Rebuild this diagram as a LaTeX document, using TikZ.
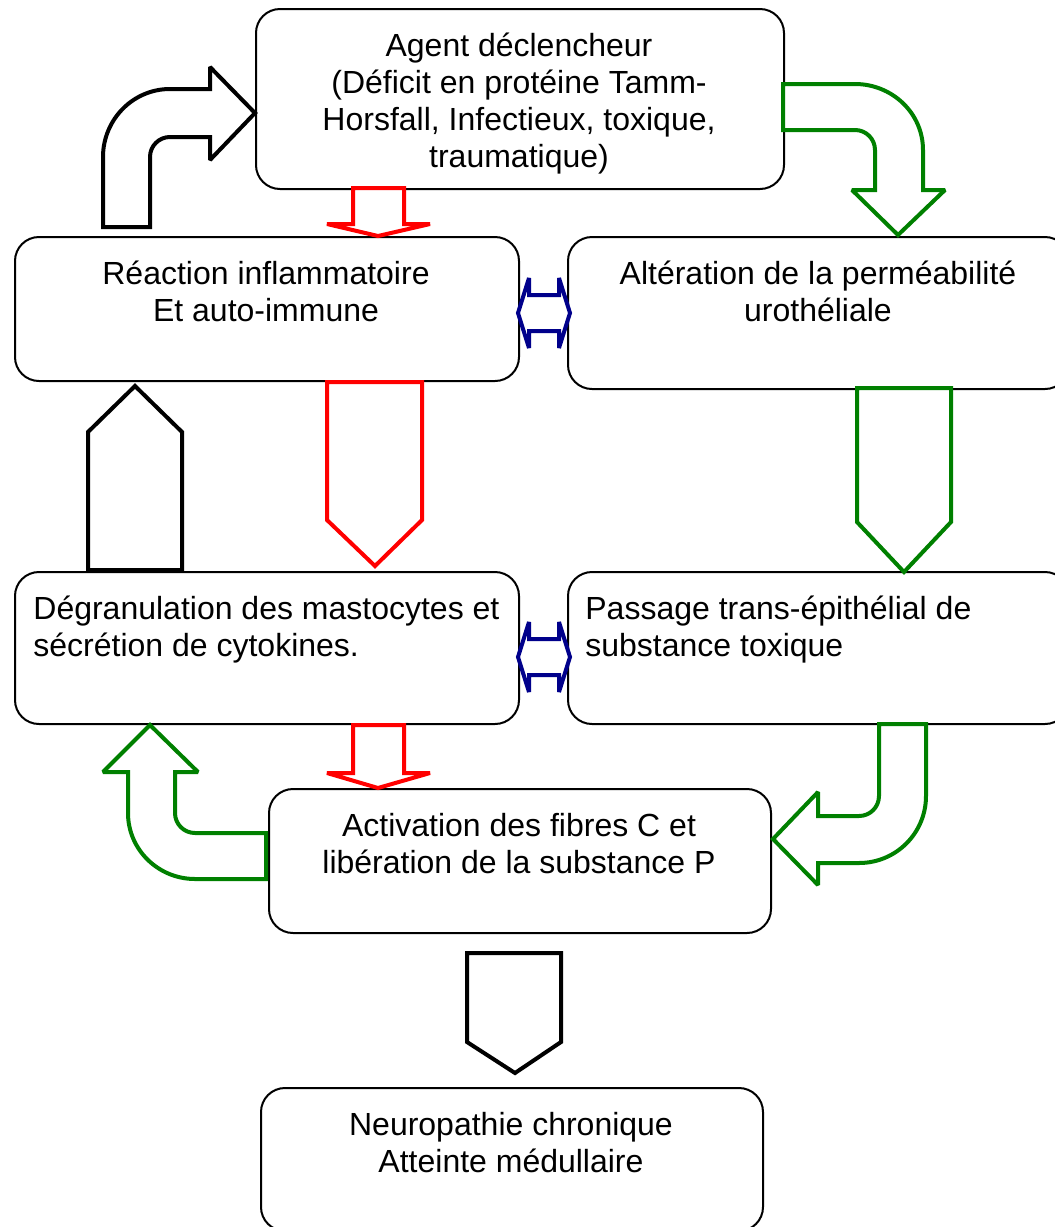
\documentclass[tikz,border=0pt]{standalone}
\usepackage{fontspec}
\setmainfont{Liberation Sans}

\definecolor{arrgreen}{RGB}{0,128,0}
\definecolor{arrblue}{RGB}{0,0,139}

\tikzset{
  box/.style={draw, line width=1pt, rounded corners=12pt, anchor=north west, inner sep=0pt},
  txt/.style={font=\fontsize{16}{18.5}\selectfont, inner sep=0pt, anchor=north, align=center},
  blockarr/.style={draw=#1, line width=2pt, fill=white, line join=miter, miter limit=2},
  blockarr/.default=black
}

\begin{document}
\begin{tikzpicture}[x=0.5pt,y=0.5pt]
  \useasboundingbox (0,0) rectangle (1055,-1227);

  % boxes
  \node[box, minimum width=264pt, minimum height=90pt] (agent) at (255,-8) {};
  \node[box, minimum width=252pt, minimum height=72pt] (reac) at (14,-236) {};
  \node[box, minimum width=250.5pt, minimum height=76pt] (alter) at (567,-236) {};
  \node[box, minimum width=252pt, minimum height=76pt] (degr) at (14,-571) {};
  \node[box, minimum width=250.5pt, minimum height=76pt] (pass) at (567,-571) {};
  \node[box, minimum width=251pt, minimum height=72pt] (activ) at (268,-788) {};
  \node[box, minimum width=251pt, minimum height=71.5pt] (neuro) at (260,-1087) {};

  % texts
  \node[txt] (agent-t) at (519,-30) {\strut Agent déclencheur\\(Déficit en protéine Tamm-\\Horsfall, Infectieux, toxique,\\traumatique)};
  \node[txt] (reac-t) at (266,-258) {\strut Réaction inflammatoire\\Et auto-immune};
  \node[txt] (alter-t) at (818,-258) {\strut Altération de la perméabilité\\urothéliale};
  \node[txt, anchor=north west, align=left] (degr-t) at (33,-593) {\strut Dégranulation des mastocytes et\\sécrétion de cytokines.};
  \node[txt, anchor=north west, align=left] (pass-t) at (585,-593) {\strut Passage trans-épithélial de\\substance toxique};
  \node[txt] (activ-t) at (519,-810) {\strut Activation des fibres C et\\libération de la substance P};
  \node[txt] (neuro-t) at (511,-1109) {\strut Neuropathie chronique\\Atteinte médullaire};

  % curved block arrows
  \draw[blockarr] (103,-227) -- (103,-157) to[out=90,in=180] (170,-89) -- (210,-89) -- (210,-67)
    -- (255,-113) -- (210,-160) -- (210,-137) -- (170,-137) to[out=180,in=90] (150,-157) -- (150,-227) -- cycle;
  \draw[blockarr=arrgreen] (783,-84) -- (855,-84) to[out=0,in=90] (923,-150) -- (923,-190) -- (945,-190)
    -- (898,-235) -- (852,-190) -- (875,-190) -- (875,-150) to[out=90,in=0] (855,-130) -- (783,-130) -- cycle;
  \draw[blockarr=arrgreen] (266,-833) -- (195,-833) to[out=180,in=-90] (175,-813) -- (175,-772) -- (198,-772)
    -- (150,-725) -- (103,-772) -- (128,-772) -- (128,-813) to[out=-90,in=180] (195,-879) -- (266,-879) -- cycle;
  \draw[blockarr=arrgreen] (879,-724) -- (926,-724) -- (926,-796) to[out=-90,in=0] (859,-863) -- (818,-863)
    -- (818,-885) -- (773,-839) -- (818,-792) -- (818,-816) -- (859,-816) to[out=0,in=-90] (879,-796) -- cycle;

  % straight block arrows
  \draw[blockarr=red] (353,-188) -- (404,-188) -- (404,-224) -- (430,-224) -- (378,-236) -- (327,-224) -- (353,-224) -- cycle;
  \draw[blockarr=red] (353,-725) -- (404,-725) -- (404,-773) -- (430,-773) -- (378,-788) -- (327,-773) -- (353,-773) -- cycle;
  \draw[blockarr=red] (327,-382) -- (422,-382) -- (422,-520) -- (375,-566) -- (327,-520) -- cycle;
  \draw[blockarr=arrgreen] (857,-388) -- (951,-388) -- (951,-522) -- (904,-572) -- (857,-522) -- cycle;
  \draw[blockarr] (88,-570) -- (88,-432) -- (135,-386) -- (182,-432) -- (182,-570) -- cycle;
  \draw[blockarr] (467,-953) -- (561,-953) -- (561,-1042) -- (515,-1073) -- (467,-1042) -- cycle;

  % double arrows
  \foreach \y in {313,657}
    \draw[blockarr=arrblue] (518,-\y) -- ++(11,35) -- ++(0,-17) -- ++(30,0) -- ++(0,17) -- ++(11,-35)
      -- ++(-11,-35) -- ++(0,17) -- ++(-30,0) -- ++(0,-17) -- cycle;
\end{tikzpicture}
\end{document}
